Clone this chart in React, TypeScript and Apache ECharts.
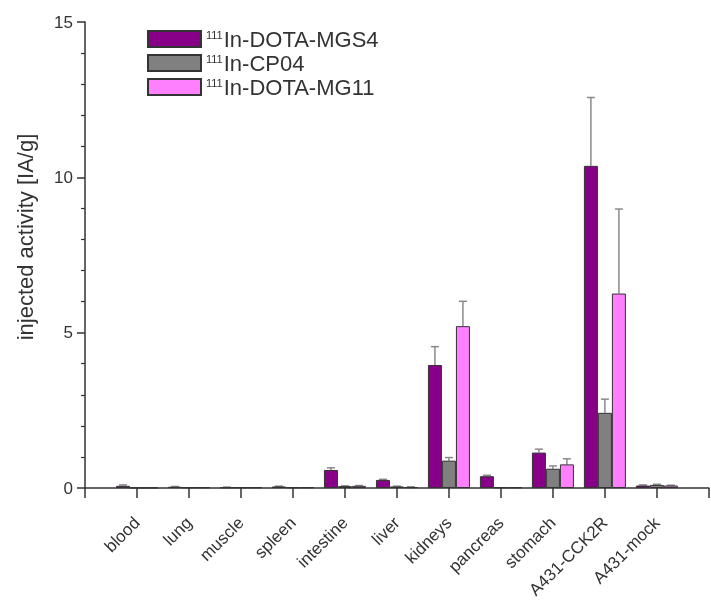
import React, { useEffect, useRef } from "react";
import * as echarts from "echarts";

const categories = ["blood", "lung", "muscle", "spleen", "intestine", "liver", "kidneys", "pancreas", "stomach", "A431-CCK2R", "A431-mock"];
const seriesNames = ["In-DOTA-MGS4", "In-CP04", "In-DOTA-MG11"];
const mgs4 = [0.07, 0.04, 0.02, 0.05, 0.58, 0.26, 3.96, 0.38, 1.14, 10.37, 0.08];
const mgs4Err = [0.03, 0.01, 0.01, 0.01, 0.07, 0.02, 0.59, 0.03, 0.11, 2.2, 0.02];
const cp04 = [0.01, 0.02, 0.02, 0.02, 0.06, 0.05, 0.88, 0.02, 0.62, 2.42, 0.1];
const cp04Err = [0.0, 0.0, 0.0, 0.0, 0.01, 0.01, 0.1, 0.0, 0.09, 0.44, 0.02];
const mg11 = [0.01, 0.02, 0.02, 0.02, 0.07, 0.03, 5.21, 0.02, 0.76, 6.26, 0.08];
const mg11Err = [0.0, 0.0, 0.0, 0.0, 0.01, 0.01, 0.8, 0.0, 0.18, 2.72, 0.01];
const yTicks = [0, 5, 10, 15];

const colors = ["#880088", "#808080", "#ff80ff"];
const offsets = [-14, 0, 14];

export default function App() {
  const ref = useRef<HTMLDivElement>(null);
  useEffect(() => {
    if (!ref.current) return;
    const chart = echarts.init(ref.current, undefined, { renderer: "svg" });
    const axisCats = ["", ...categories, ""];
    const vals = [mgs4, cp04, mg11];
    const errs = [mgs4Err, cp04Err, mg11Err];
    const barSeries = vals.map((v, i) => ({
      type: "bar",
      name: seriesNames[i],
      data: [null, ...v, null],
      barWidth: 14,
      barGap: "0%",
      itemStyle: { color: colors[i], borderColor: "#333", borderWidth: 1 },
      z: 2,
    }));
    const errSeries = vals.map((v, i) => ({
      type: "custom",
      name: "err" + i,
      data: v.map((val, j) => [j + 1, val, errs[i][j]]),
      z: 1,
      renderItem: (params: any, api: any) => {
        const x = api.value(0);
        const val = api.value(1);
        const e = api.value(2);
        if (!e) return null;
        const p0 = api.coord([x, val]);
        const p1 = api.coord([x, val + e]);
        const cx = p0[0] + offsets[i];
        const st = { stroke: "#8a8a8a", lineWidth: 1.5 };
        return {
          type: "group",
          children: [
            { type: "line", shape: { x1: cx, y1: p0[1], x2: cx, y2: p1[1] }, style: st },
            { type: "line", shape: { x1: cx - 4, y1: p1[1], x2: cx + 4, y2: p1[1] }, style: st },
          ],
        };
      },
    }));
    chart.setOption({
      animation: false,
      textStyle: { fontFamily: "Liberation Sans, Arial, sans-serif" },
      grid: { left: 85, top: 22, width: 635, height: 466 },
      legend: {
        data: seriesNames,
        orient: "vertical",
        left: 142,
        top: 23,
        itemWidth: 53,
        itemHeight: 16,
        itemGap: 2,
        icon: "rect",
        formatter: (name: string) => `{sup|111}{main|${name}}`,
        textStyle: {
          rich: {
            sup: { fontSize: 11, color: "#333", verticalAlign: "top", lineHeight: 11, padding: [0, 1, 0, 0] },
            main: { fontSize: 22, color: "#333", lineHeight: 20 },
          },
        },
      },
      xAxis: {
        type: "category",
        data: axisCats,
        boundaryGap: false,
        axisLine: { lineStyle: { color: "#333", width: 1.5 } },
        axisTick: { show: true, length: 10, interval: 0, lineStyle: { color: "#333", width: 1.5 } },
        axisLabel: { interval: 0, rotate: 45, fontSize: 17, color: "#333", margin: 32 },
        splitLine: { show: false },
      },
      yAxis: {
        type: "value",
        min: 0,
        max: 15,
        interval: 5,
        axisLine: { show: true, lineStyle: { color: "#333", width: 1.5 } },
        axisTick: { show: true, length: 8, lineStyle: { color: "#333", width: 1.5 } },
        minorTick: { show: true, splitNumber: 5, length: 4, lineStyle: { color: "#333", width: 1.2 } },
        axisLabel: { fontSize: 17, color: "#333", margin: 12, formatter: (v: number) => (yTicks.includes(v) ? String(v) : "") },
        splitLine: { show: false },
      },
      graphic: [
        {
          type: "text",
          x: 25,
          y: 237,
          rotation: Math.PI / 2,
          style: {
            text: "injected activity [IA/g]",
            fontSize: 22,
            fill: "#333",
            align: "center",
            verticalAlign: "middle",
            fontFamily: "Liberation Sans, Arial, sans-serif",
          },
        },
      ],
      series: [...barSeries, ...errSeries],
    });
    return () => chart.dispose();
  }, []);
  return <div ref={ref} style={{ position: "fixed", left: 0, top: 0, width: 711, height: 601 }} />;
}
